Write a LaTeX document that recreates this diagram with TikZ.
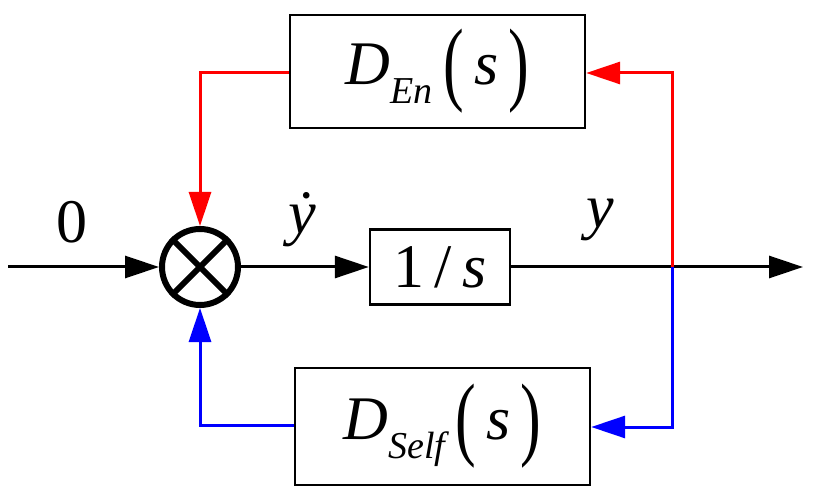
\documentclass[tikz,border=0pt]{standalone}
\usepackage{fontspec}
\setmainfont{Liberation Serif}
\usetikzlibrary{arrows.meta}
\newcommand{\bigp}[1]{\raisebox{-0.15em}{\scalebox{1}[1.5]{#1}}}
\begin{document}
\begin{tikzpicture}[x=1pt,y=-1pt,
  ln/.style={line width=3pt},
  bx/.style={draw,line width=2.4pt,inner sep=0pt},
  arr/.style={-{Triangle[length=34pt,width=22pt]}},
  big/.style={font=\fontsize{62}{64}\selectfont}]
\useasboundingbox (0,0) rectangle (813,502);
\node[bx,minimum width=295,minimum height=113,big] (en) at (437.5,71.5) {\itshape D\raisebox{-0.3em}{\fontsize{38}{40}\selectfont En}\,\upshape\bigp{(}\,\itshape s\,\upshape\bigp{)}};
\node[bx,minimum width=140,minimum height=75,big] (int) at (440,267) {1\,/\,\itshape s};
\node[bx,minimum width=295,minimum height=117,big] (self) at (442.5,426.5) {\itshape D\raisebox{-0.3em}{\fontsize{38}{40}\selectfont Self}\,\upshape\bigp{(}\,\itshape s\,\upshape\bigp{)}};
\node[draw,circle,line width=6pt,minimum size=76,inner sep=0] (sum) at (200,267) {};
\draw[line width=6pt] (sum.north west) -- (sum.south east) (sum.north east) -- (sum.south west);
\coordinate (in) at (8,267);
\coordinate (out) at (803,267);
\coordinate (br) at (672,267);
\draw[ln,arr] (in) -- (sum.west);
\draw[ln,arr] (sum.east) -- (int.west);
\draw[ln,arr] (int.east) -- (out);
\draw[ln,red,arr] (br) -- (672,73) -- (en.east |- 0,73);
\draw[ln,red,arr] (en.west |- 0,73) -- (200,73) -- (sum.north);
\draw[ln,blue,arr] (br) -- (672,427) -- (self.east |- 0,427);
\draw[ln,blue,arr] (self.west |- 0,425) -- (200,425) -- (sum.south);
\node[big] (z) at (72,222) {0};
\node[big] (yd) at (302,220) {\itshape\.y};
\node[big] (y) at (600,220) {\itshape y};
\end{tikzpicture}
\end{document}
